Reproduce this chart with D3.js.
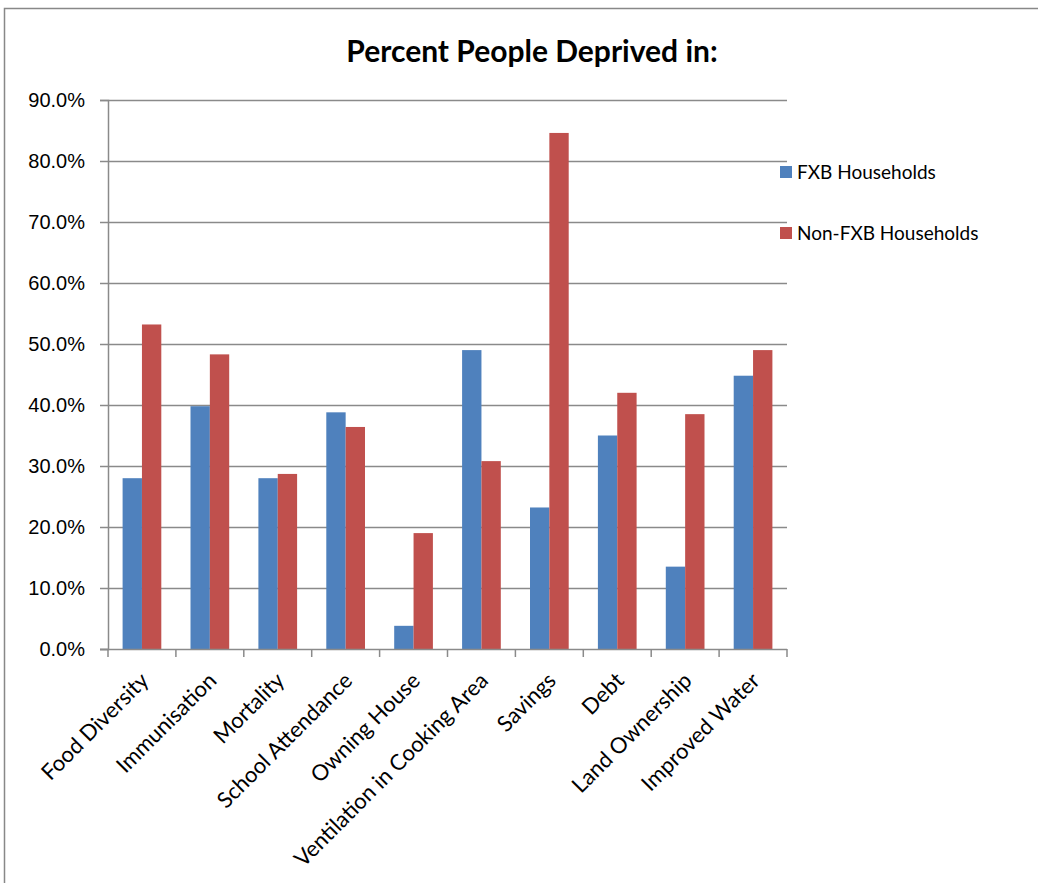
<!DOCTYPE html>
<html>
<head>
<meta charset="utf-8">
<script src="https://cdn.jsdelivr.net/npm/d3@7"></script>
<style>
  body { margin: 0; background: #fff; }
  svg { display: block; font-family: Lato, "Open Sans", sans-serif; }
</style>
</head>
<body>
<svg width="1038" height="883"></svg>
<script>
// data
var categories = ["Food Diversity", "Immunisation", "Mortality", "School Attendance",
  "Owning House", "Ventilation in Cooking Area", "Savings", "Debt",
  "Land Ownership", "Improved Water"];
var seriesNames = ["FXB Households", "Non-FXB Households"];
var fxbValues = [28.0, 39.8, 28.0, 38.8, 3.8, 49.0, 23.2, 35.0, 13.5, 44.8];
var nonFxbValues = [53.2, 48.3, 28.7, 36.4, 19.0, 30.8, 84.6, 42.0, 38.5, 49.0];
var yTicks = [0, 10, 20, 30, 40, 50, 60, 70, 80, 90];
var colors = ["#4f81bd", "#c0504d"];

var svg = d3.select("svg");

// outer chart border (runs off the page bottom/right)
svg.append("rect")
  .attr("x", 4.5).attr("y", 8.5)
  .attr("width", 1100).attr("height", 1000)
  .attr("fill", "none").attr("stroke", "#888").attr("stroke-width", 1.5);

var plotLeft = 108, plotRight = 787, plotTop = 100, plotBottom = 649;

var x = d3.scaleBand().domain(categories).range([plotLeft, plotRight]).paddingInner(0.43).paddingOuter(0.215);
var xBand = d3.scaleBand().domain(categories).range([plotLeft, plotRight]);
var xSub = d3.scaleBand().domain(seriesNames).range([0, x.bandwidth()]);
var y = d3.scaleLinear().domain([0, 90]).range([plotBottom, plotTop]);

// gridlines
svg.append("g")
  .selectAll("line")
  .data(yTicks.slice(1))
  .join("line")
  .attr("x1", plotLeft).attr("x2", plotRight)
  .attr("y1", function(d) { return Math.round(y(d)) + 0.5; })
  .attr("y2", function(d) { return Math.round(y(d)) + 0.5; })
  .attr("stroke", "#8a8a8a").attr("stroke-width", 1.5);

// bars
var rows = categories.map(function(c, i) {
  return { cat: c, vals: [fxbValues[i], nonFxbValues[i]] };
});
svg.append("g")
  .selectAll("g")
  .data(rows)
  .join("g")
  .attr("transform", function(d) { return "translate(" + x(d.cat) + ",0)"; })
  .selectAll("rect")
  .data(function(d) { return d.vals.map(function(v, j) { return { name: seriesNames[j], v: v, j: j }; }); })
  .join("rect")
  .attr("x", function(d) { return xSub(d.name); })
  .attr("width", xSub.bandwidth())
  .attr("y", function(d) { return y(d.v); })
  .attr("height", function(d) { return y(0) - y(d.v); })
  .attr("fill", function(d) { return colors[d.j]; });

// y axis
var yAxis = d3.axisLeft(y)
  .tickValues(yTicks)
  .tickSize(8)
  .tickPadding(15)
  .tickFormat(function(d) { return d.toFixed(1) + "%"; });
var gy = svg.append("g").attr("transform", "translate(" + plotLeft + ",0)").call(yAxis);
gy.select(".domain").attr("stroke", "#8a8a8a").attr("stroke-width", 1.5);
gy.selectAll(".tick line").attr("stroke", "#8a8a8a").attr("stroke-width", 1.5);
gy.selectAll("text").attr("font-size", 20).attr("fill", "#000");

// x axis baseline and tick marks at band boundaries
var gx = svg.append("g");
gx.append("line")
  .attr("x1", plotLeft - 8).attr("x2", plotRight)
  .attr("y1", plotBottom + 0.5).attr("y2", plotBottom + 0.5)
  .attr("stroke", "#8a8a8a").attr("stroke-width", 1.5);
var bounds = categories.map(function(c) { return xBand(c); }).concat([plotRight]);
gx.selectAll("line.tk")
  .data(bounds)
  .join("line")
  .attr("class", "tk")
  .attr("x1", function(d) { return d; }).attr("x2", function(d) { return d; })
  .attr("y1", plotBottom).attr("y2", plotBottom + 8)
  .attr("stroke", "#8a8a8a").attr("stroke-width", 1.5);

// rotated category labels
gx.selectAll("text")
  .data(categories)
  .join("text")
  .attr("transform", function(d) {
    return "translate(" + (xBand(d) + xBand.bandwidth() / 2 + 8) + "," + (plotBottom + 33) + ") rotate(-45)";
  })
  .attr("text-anchor", "end")
  .attr("font-size", 22)
  .attr("fill", "#000")
  .text(function(d) { return d; });

// title
svg.append("text")
  .attr("x", 532).attr("y", 62)
  .attr("text-anchor", "middle")
  .attr("font-size", 30)
  .attr("font-weight", "bold")
  .text("Percent People Deprived in:");

// legend
var legend = svg.append("g")
  .selectAll("g")
  .data(seriesNames)
  .join("g")
  .attr("transform", function(d, i) { return "translate(780," + (166 + i * 61) + ")"; });
legend.append("rect")
  .attr("width", 12).attr("height", 12)
  .attr("fill", function(d, i) { return colors[i]; });
legend.append("text")
  .attr("x", 17).attr("y", 6)
  .attr("dy", "0.35em")
  .attr("font-size", 19)
  .text(function(d) { return d; });
</script>
</body>
</html>
